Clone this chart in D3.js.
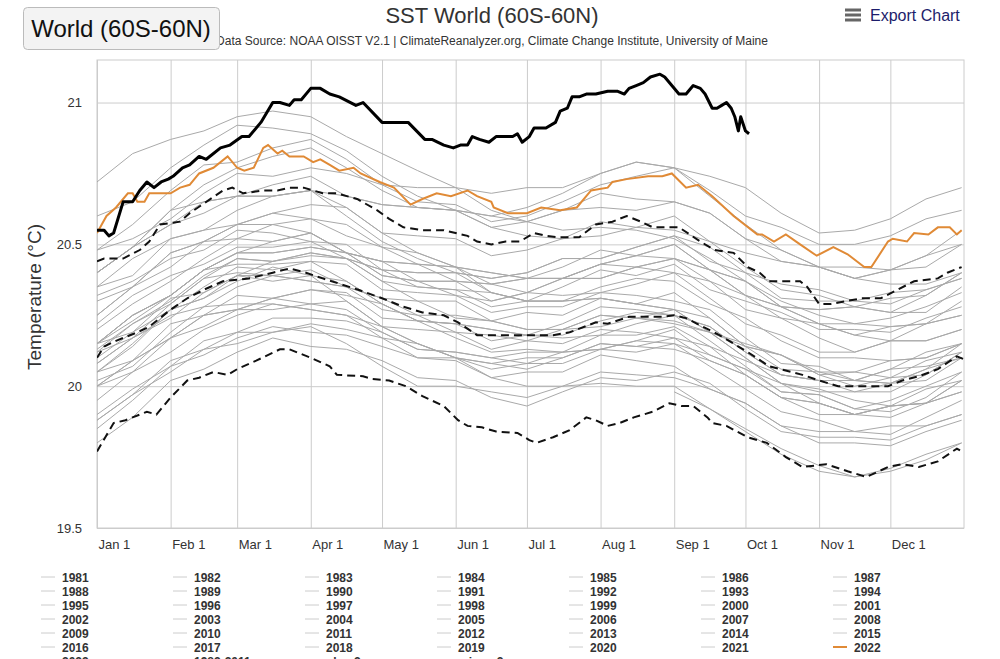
<!DOCTYPE html>
<html>
<head>
<meta charset="utf-8">
<script src="https://cdn.jsdelivr.net/npm/d3@7"></script>
<style>
  html, body { margin: 0; padding: 0; background: #fff; }
  svg { display: block; font-family: "Liberation Sans", Arial, sans-serif; }
</style>
</head>
<body>
<svg id="chart" width="1000" height="659"></svg>
<script>
// ---------------- DATA ----------------
const monthLabels = ["Jan 1","Feb 1","Mar 1","Apr 1","May 1","Jun 1","Jul 1","Aug 1","Sep 1","Oct 1","Nov 1","Dec 1"];
const monthStartDays = [0,31,59,90,120,151,181,212,243,273,304,334];
const yTicks = [19.5, 20, 20.5, 21];

// sample days (day of year, 0 = Jan 1) for the background years
const grayDays = [0,15,31,45,59,74,90,105,120,135,151,166,181,196,212,227,243,258,273,288,304,319,334,349,364];

const sst1981 = [null,null,null,null,null,null,null,null,null,null,null,null,null,null,null,null,19.98,19.92,19.85,19.78,19.72,19.68,19.70,19.74,19.80];
const sst1982 = [19.85,19.95,20.07,20.11,20.17,20.21,20.19,20.18,20.14,20.10,20.10,20.06,20.08,20.08,20.13,20.16,20.15,20.11,20.06,20.01,19.98,19.98,19.98,20.04,20.12];
const sst1983 = [20.15,20.23,20.32,20.41,20.43,20.43,20.44,20.37,20.29,20.23,20.17,20.12,20.13,20.12,20.13,20.12,20.15,20.07,19.99,19.91,19.88,19.84,19.86,19.86,19.90];
const sst1984 = [19.88,19.97,20.09,20.13,20.15,20.19,20.21,20.15,20.07,20.00,20.00,19.98,19.96,20.00,20.01,20.00,20.00,19.92,19.84,19.76,19.70,19.68,19.71,19.76,19.80];
const sst1985 = [19.80,19.89,20.02,20.06,20.12,20.17,20.14,20.13,20.09,20.03,20.02,19.96,19.93,19.98,20.03,20.02,20.05,20.01,19.92,19.84,19.82,19.82,19.81,19.86,19.90];
const sst1986 = [19.90,19.99,20.07,20.16,20.19,20.24,20.24,20.23,20.19,20.13,20.12,20.10,20.08,20.12,20.18,20.18,20.21,20.14,20.09,20.04,20.02,19.98,20.01,20.06,20.10];
const sst1987 = [20.12,20.22,20.30,20.39,20.45,20.44,20.46,20.45,20.37,20.35,20.34,20.28,20.30,20.30,20.35,20.38,20.37,20.29,20.24,20.16,20.10,20.10,20.09,20.10,20.15];
const sst1988 = [20.15,20.19,20.31,20.33,20.39,20.37,20.39,20.30,20.21,20.15,20.10,20.03,20.05,20.05,20.11,20.09,20.07,19.99,19.94,19.86,19.80,19.80,19.79,19.84,19.88];
const sst1989 = [19.88,19.97,20.05,20.13,20.19,20.19,20.22,20.20,20.17,20.15,20.10,20.08,20.10,20.10,20.15,20.14,20.17,20.09,20.04,19.96,19.94,19.90,19.89,19.94,20.02];
const sst1990 = [20.05,20.14,20.27,20.31,20.37,20.42,20.39,20.37,20.29,20.23,20.22,20.20,20.18,20.22,20.28,20.27,20.25,20.21,20.12,20.04,20.02,20.02,20.01,20.02,20.10];
const sst1991 = [20.08,20.17,20.24,20.33,20.39,20.39,20.37,20.35,20.31,20.25,20.25,20.23,20.20,20.20,20.25,20.24,20.22,20.19,20.14,20.06,20.05,20.02,20.06,20.07,20.10];
const sst1992 = [20.08,20.17,20.25,20.28,20.29,20.29,20.27,20.25,20.17,20.10,20.09,20.03,20.00,20.00,20.05,20.04,20.03,19.99,19.94,19.86,19.84,19.84,19.83,19.89,19.95];
const sst1993 = [19.95,20.05,20.12,20.20,20.25,20.29,20.27,20.25,20.21,20.15,20.10,20.08,20.06,20.10,20.15,20.14,20.13,20.09,20.04,19.96,19.90,19.90,19.93,19.94,20.02];
const sst1994 = [20.00,20.09,20.17,20.21,20.27,20.31,20.29,20.30,20.21,20.20,20.19,20.13,20.16,20.20,20.21,20.24,20.27,20.19,20.15,20.11,20.05,20.05,20.09,20.10,20.15];
const sst1995 = [20.13,20.22,20.29,20.38,20.40,20.39,20.41,20.35,20.27,20.25,20.19,20.18,20.16,20.15,20.20,20.19,20.17,20.14,20.04,19.96,19.94,19.90,19.93,19.94,19.98];
const sst1996 = [20.00,20.05,20.17,20.25,20.27,20.27,20.29,20.27,20.19,20.13,20.12,20.10,20.12,20.12,20.13,20.16,20.20,20.11,20.06,19.98,19.97,19.92,19.95,20.00,20.05];
const sst1997 = [20.05,20.15,20.27,20.31,20.39,20.44,20.47,20.45,20.41,20.40,20.40,20.38,20.40,20.45,20.45,20.49,20.53,20.49,20.40,20.36,20.34,20.30,20.33,20.34,20.38];
const sst1998 = [20.40,20.49,20.62,20.65,20.67,20.67,20.69,20.63,20.54,20.47,20.42,20.33,20.30,20.30,20.31,20.29,20.27,20.19,20.10,20.01,19.94,19.90,19.93,19.94,19.98];
const sst1999 = [20.00,20.09,20.17,20.25,20.32,20.31,20.34,20.33,20.24,20.23,20.22,20.16,20.18,20.17,20.18,20.22,20.25,20.16,20.07,19.98,19.97,19.92,19.91,19.96,20.05];
const sst2000 = [20.05,20.09,20.22,20.25,20.27,20.31,20.34,20.32,20.29,20.23,20.22,20.20,20.18,20.18,20.23,20.26,20.25,20.21,20.12,20.04,20.02,20.02,20.01,20.06,20.15];
const sst2001 = [20.15,20.25,20.32,20.41,20.47,20.47,20.49,20.47,20.39,20.37,20.32,20.30,20.33,20.32,20.33,20.36,20.40,20.31,20.22,20.18,20.12,20.12,20.16,20.16,20.20];
const sst2002 = [20.20,20.29,20.37,20.45,20.52,20.51,20.54,20.47,20.44,20.43,20.37,20.36,20.38,20.38,20.43,20.42,20.45,20.41,20.32,20.28,20.22,20.22,20.21,20.22,20.30];
const sst2003 = [20.30,20.35,20.47,20.51,20.52,20.57,20.54,20.47,20.39,20.37,20.37,20.30,20.33,20.38,20.38,20.42,20.40,20.37,20.32,20.24,20.22,20.18,20.16,20.22,20.25];
const sst2004 = [20.22,20.32,20.39,20.43,20.49,20.49,20.51,20.50,20.41,20.35,20.34,20.33,20.30,20.35,20.41,20.39,20.43,20.34,20.30,20.26,20.20,20.20,20.19,20.24,20.28];
const sst2005 = [20.25,20.35,20.47,20.51,20.57,20.61,20.59,20.53,20.49,20.47,20.42,20.36,20.38,20.38,20.38,20.42,20.45,20.37,20.27,20.24,20.17,20.12,20.16,20.16,20.20];
const sst2006 = [20.15,20.25,20.32,20.41,20.47,20.47,20.49,20.47,20.44,20.37,20.37,20.36,20.33,20.38,20.43,20.46,20.45,20.41,20.37,20.28,20.27,20.28,20.26,20.26,20.35];
const sst2007 = [20.32,20.37,20.45,20.48,20.55,20.54,20.51,20.45,20.37,20.30,20.30,20.23,20.20,20.20,20.25,20.24,20.23,20.19,20.10,20.01,19.99,19.95,19.93,19.99,20.02];
const sst2008 = [20.02,20.07,20.19,20.28,20.35,20.39,20.37,20.35,20.31,20.30,20.24,20.23,20.26,20.25,20.31,20.29,20.27,20.24,20.14,20.11,20.04,20.00,20.03,20.09,20.12];
const sst2009 = [20.12,20.17,20.29,20.38,20.45,20.44,20.47,20.45,20.41,20.40,20.40,20.38,20.40,20.45,20.45,20.49,20.53,20.44,20.40,20.31,20.30,20.30,20.29,20.34,20.38];
const sst2010 = [20.40,20.49,20.57,20.65,20.67,20.67,20.69,20.60,20.51,20.45,20.40,20.33,20.30,20.30,20.31,20.29,20.33,20.24,20.14,20.11,20.04,20.05,20.03,20.04,20.12];
const sst2011 = [20.10,20.19,20.27,20.35,20.42,20.41,20.44,20.43,20.34,20.33,20.32,20.26,20.28,20.28,20.33,20.32,20.30,20.27,20.17,20.08,20.07,20.02,20.06,20.12,20.15];
const sst2012 = [20.15,20.25,20.32,20.41,20.47,20.51,20.54,20.47,20.44,20.43,20.42,20.40,20.38,20.42,20.48,20.46,20.50,20.41,20.32,20.28,20.22,20.18,20.21,20.22,20.25];
const sst2013 = [20.25,20.35,20.42,20.51,20.57,20.57,20.59,20.57,20.49,20.43,20.42,20.40,20.38,20.38,20.43,20.46,20.50,20.41,20.37,20.28,20.27,20.28,20.26,20.32,20.40];
const sst2014 = [20.35,20.45,20.52,20.55,20.62,20.67,20.69,20.67,20.64,20.63,20.62,20.56,20.58,20.62,20.63,20.62,20.65,20.61,20.52,20.48,20.42,20.38,20.41,20.46,20.50];
const sst2015 = [20.48,20.52,20.59,20.68,20.75,20.74,20.77,20.75,20.71,20.70,20.70,20.68,20.70,20.70,20.75,20.79,20.77,20.74,20.70,20.61,20.54,20.55,20.59,20.66,20.70];
const sst2016 = [20.72,20.82,20.87,20.90,20.95,20.97,20.95,20.88,20.82,20.76,20.70,20.62,20.58,20.55,20.56,20.55,20.52,20.45,20.37,20.30,20.25,20.22,20.24,20.28,20.33];
const sst2017 = [20.40,20.49,20.62,20.71,20.77,20.81,20.84,20.77,20.69,20.63,20.62,20.56,20.53,20.52,20.58,20.56,20.55,20.51,20.42,20.34,20.32,20.28,20.31,20.32,20.40];
const sst2018 = [20.35,20.39,20.52,20.55,20.57,20.61,20.64,20.63,20.54,20.53,20.52,20.46,20.48,20.52,20.53,20.56,20.60,20.51,20.47,20.44,20.42,20.38,20.41,20.42,20.50];
const sst2019 = [20.48,20.57,20.69,20.78,20.79,20.84,20.87,20.80,20.71,20.65,20.64,20.58,20.60,20.65,20.71,20.74,20.77,20.69,20.60,20.56,20.50,20.50,20.53,20.59,20.62];
const sst2020 = [20.60,20.65,20.77,20.85,20.92,20.91,20.89,20.83,20.74,20.67,20.62,20.60,20.63,20.68,20.75,20.79,20.77,20.67,20.57,20.48,20.42,20.38,20.36,20.36,20.40];
const sst2021 = [20.40,20.49,20.57,20.61,20.67,20.71,20.74,20.67,20.64,20.63,20.62,20.60,20.58,20.62,20.68,20.66,20.65,20.61,20.52,20.44,20.42,20.42,20.41,20.46,20.55];

const grayYears = [1981,1982,1983,1984,1985,1986,1987,1988,1989,1990,1991,1992,1993,1994,1995,1996,1997,1998,1999,2000,2001,2002,2003,2004,2005,2006,2007,2008,2009,2010,2011,2012,2013,2014,2015,2016,2017,2018,2019,2020,2021];
const graySeries = [sst1981,sst1982,sst1983,sst1984,sst1985,sst1986,sst1987,sst1988,sst1989,sst1990,sst1991,sst1992,sst1993,sst1994,sst1995,sst1996,sst1997,sst1998,sst1999,sst2000,sst2001,sst2002,sst2003,sst2004,sst2005,sst2006,sst2007,sst2008,sst2009,sst2010,sst2011,sst2012,sst2013,sst2014,sst2015,sst2016,sst2017,sst2018,sst2019,sst2020,sst2021];

// [day of year, °C]
const sst2022 = [[0,20.54],[4,20.60],[8,20.63],[13,20.68],[15,20.68],[17,20.65],[20,20.65],[22,20.68],[28,20.68],[31,20.68],[35,20.70],[39,20.71],[43,20.75],[49,20.77],[55,20.81],[59,20.77],[62,20.76],[66,20.77],[70,20.84],[72,20.85],[76,20.82],[78,20.83],[81,20.81],[87,20.81],[91,20.79],[94,20.80],[98,20.78],[102,20.76],[108,20.77],[111,20.75],[119,20.72],[125,20.70],[132,20.64],[137,20.66],[143,20.68],[149,20.67],[156,20.69],[160,20.67],[166,20.65],[167,20.63],[173,20.61],[181,20.61],[187,20.63],[195,20.62],[202,20.63],[208,20.69],[215,20.70],[217,20.72],[223,20.73],[232,20.74],[238,20.74],[242,20.75],[248,20.70],[253,20.71],[259,20.67],[268,20.60],[278,20.535],[280,20.535],[285,20.51],[290,20.535],[296,20.50],[303,20.46],[310,20.49],[316,20.465],[323,20.42],[326,20.42],[333,20.51],[335,20.52],[341,20.51],[344,20.54],[350,20.535],[354,20.56],[359,20.56],[362,20.535],[364,20.55]];
const sst2023 = [[0,20.55],[3,20.55],[5,20.53],[7,20.54],[11,20.65],[15,20.65],[18,20.69],[21,20.72],[24,20.70],[27,20.72],[30,20.73],[32,20.74],[36,20.77],[39,20.78],[43,20.81],[46,20.80],[52,20.84],[56,20.85],[61,20.88],[64,20.88],[69,20.93],[74,21.00],[77,21.00],[81,20.99],[83,21.01],[86,21.01],[90,21.05],[94,21.05],[98,21.03],[102,21.02],[109,20.99],[112,21.00],[120,20.93],[127,20.93],[131,20.93],[138,20.87],[141,20.87],[146,20.85],[150,20.84],[153,20.85],[156,20.85],[158,20.88],[161,20.87],[165,20.86],[168,20.88],[175,20.88],[177,20.89],[179,20.86],[182,20.88],[184,20.91],[189,20.91],[193,20.93],[195,20.97],[198,20.98],[200,21.02],[203,21.02],[206,21.03],[210,21.03],[215,21.04],[219,21.04],[222,21.03],[224,21.05],[227,21.06],[230,21.07],[233,21.09],[237,21.10],[239,21.09],[245,21.03],[248,21.03],[251,21.06],[254,21.05],[256,21.03],[259,20.98],[261,20.98],[263,20.99],[265,21.00],[267,20.98],[268.5,20.95],[270,20.90],[271,20.95],[273,20.90],[274.5,20.89]];
const mean8211 = [[0,20.10],[3,20.14],[8,20.16],[17,20.19],[22,20.21],[31,20.27],[38,20.31],[45,20.34],[53,20.37],[64,20.38],[74,20.40],[81,20.415],[88,20.40],[95,20.38],[110,20.34],[120,20.31],[129,20.28],[137,20.26],[146,20.25],[152,20.225],[160,20.18],[182,20.18],[192,20.18],[199,20.19],[210,20.225],[215,20.22],[224,20.245],[238,20.245],[243,20.25],[248,20.24],[262,20.18],[274,20.12],[283,20.07],[297,20.04],[304,20.02],[312,20.00],[322,20.00],[333,20.00],[339,20.02],[346,20.035],[354,20.06],[362,20.105],[365,20.095]];
const plus2sigma = [[0,20.44],[3,20.45],[11,20.45],[18,20.48],[22,20.51],[26.5,20.57],[35,20.58],[39,20.61],[46,20.65],[53,20.69],[57,20.70],[61.5,20.68],[70,20.69],[76,20.69],[81,20.70],[87,20.70],[95,20.68],[101,20.68],[109.5,20.66],[118,20.62],[123,20.59],[129,20.56],[137,20.55],[146,20.55],[156,20.53],[160,20.51],[166,20.50],[172,20.51],[178,20.51],[184,20.54],[189,20.53],[194,20.525],[203,20.525],[210,20.57],[217,20.58],[223,20.60],[229,20.58],[234,20.56],[245,20.56],[254,20.51],[260,20.48],[268,20.47],[274,20.42],[279,20.40],[283,20.37],[296,20.37],[299,20.35],[304,20.29],[309,20.29],[322,20.31],[330,20.31],[337,20.34],[344,20.37],[354,20.38],[358,20.40],[364,20.42]];
const minus2sigma = [[0,19.77],[7,19.87],[12,19.88],[21,19.91],[25,19.90],[31,19.96],[38,20.02],[43,20.03],[49,20.05],[55,20.04],[59,20.06],[67,20.09],[77,20.13],[81,20.13],[90,20.10],[98,20.07],[101,20.04],[112,20.035],[116,20.025],[123,20.02],[130,20.00],[137,19.965],[146,19.93],[152,19.88],[156,19.86],[162,19.855],[168,19.84],[177,19.835],[182,19.81],[185,19.80],[192,19.82],[199,19.845],[206,19.89],[210,19.88],[215,19.86],[220,19.87],[226,19.89],[234,19.91],[241,19.94],[246,19.93],[251,19.93],[257,19.89],[259,19.87],[265,19.86],[274,19.82],[282,19.80],[290,19.75],[297,19.715],[307,19.725],[316,19.70],[324,19.68],[333,19.715],[339,19.725],[346,19.715],[354,19.735],[362,19.78],[364,19.77]];

const legendExtra = ["2023","1982-2011 mean","plus 2σ","minus 2σ"];

// ---------------- CHART ----------------
const svg = d3.select("#chart");
const W = 1000, H = 659;
const plot = {left: 97, right: 964, top: 60, bottom: 528};

svg.append("rect").attr("width", W).attr("height", H).attr("fill", "#fff");

const x = d3.scaleLinear().domain([0, 365]).range([plot.left, plot.right]);
const y = d3.scaleLinear().domain([19.5, 21.15]).range([plot.bottom, plot.top]);

// plot border
svg.append("rect")
  .attr("x", plot.left).attr("y", plot.top)
  .attr("width", plot.right - plot.left).attr("height", plot.bottom - plot.top)
  .attr("fill", "none").attr("stroke", "#ccc").attr("stroke-width", 1);

// x grid + labels
const xAxis = d3.axisBottom(x)
  .tickValues(monthStartDays)
  .tickFormat((d, i) => monthLabels[i])
  .tickSize(-(plot.bottom - plot.top))
  .tickPadding(10);
const gx = svg.append("g").attr("transform", `translate(0,${plot.bottom})`).call(xAxis);
gx.select(".domain").remove();
gx.selectAll(".tick line").attr("stroke", "#ccc");
gx.selectAll(".tick text")
  .attr("text-anchor", "start").attr("dx", 1).attr("y", 12)
  .attr("font-size", 13).attr("fill", "#333")
  .attr("font-family", "\"Liberation Sans\", Arial, sans-serif");

// y grid + labels
const yAxis = d3.axisLeft(y)
  .tickValues(yTicks)
  .tickFormat(d3.format("~g"))
  .tickSize(-(plot.right - plot.left))
  .tickPadding(15);
const gy = svg.append("g").attr("transform", `translate(${plot.left},0)`).call(yAxis);
gy.select(".domain").remove();
gy.selectAll(".tick line").attr("stroke", "#ccc");
gy.selectAll(".tick text")
  .attr("font-size", 13).attr("fill", "#333")
  .attr("font-family", "\"Liberation Sans\", Arial, sans-serif");

// y title
svg.append("text")
  .attr("transform", `translate(41,${(plot.top + plot.bottom) / 2 + 3}) rotate(-90)`)
  .attr("text-anchor", "middle")
  .attr("font-size", 19).attr("fill", "#333")
  .text("Temperature (°C)");

const clip = svg.append("clipPath").attr("id", "clip")
  .append("rect").attr("x", plot.left).attr("y", plot.top)
  .attr("width", plot.right - plot.left).attr("height", plot.bottom - plot.top);

const linesG = svg.append("g").attr("clip-path", "url(#clip)");

const linePair = d3.line().x(d => x(d[0])).y(d => y(d[1]));
const lineGray = d3.line()
  .defined(d => d[1] != null)
  .x(d => x(d[0])).y(d => y(d[1]));

graySeries.forEach((vals, i) => {
  const pts = vals.map((v, j) => [grayDays[j], v]);
  linesG.append("path")
    .attr("d", lineGray(pts))
    .attr("fill", "none")
    .attr("stroke", "#a9a9a9")
    .attr("stroke-width", 1)
    .attr("data-year", grayYears[i]);
});

[mean8211, plus2sigma, minus2sigma].forEach(s => {
  linesG.append("path")
    .attr("d", linePair(s))
    .attr("fill", "none")
    .attr("stroke", "#111")
    .attr("stroke-width", 2)
    .attr("stroke-dasharray", "8,5");
});

linesG.append("path")
  .attr("d", linePair(sst2022))
  .attr("fill", "none").attr("stroke", "#e08a36").attr("stroke-width", 2);

linesG.append("path")
  .attr("d", linePair(sst2023))
  .attr("fill", "none").attr("stroke", "#000").attr("stroke-width", 3)
  .attr("stroke-linejoin", "round");

// titles
svg.append("text").attr("x", 492).attr("y", 23).attr("text-anchor", "middle")
  .attr("font-size", 22).attr("fill", "#333").text("SST World (60S-60N)");
svg.append("text").attr("x", 492).attr("y", 45).attr("text-anchor", "middle")
  .attr("font-size", 12).attr("fill", "#333")
  .text("Data Source: NOAA OISST V2.1 | ClimateReanalyzer.org, Climate Change Institute, University of Maine");

// region button
svg.append("rect").attr("x", 23.5).attr("y", 7.5).attr("width", 196).attr("height", 42)
  .attr("rx", 4).attr("fill", "#f3f3f3").attr("stroke", "#bbb");
svg.append("text").attr("x", 121).attr("y", 37).attr("text-anchor", "middle")
  .attr("font-size", 24).attr("fill", "#111").text("World (60S-60N)");

// export menu
[10, 15, 20].forEach(yy => {
  svg.append("rect").attr("x", 845).attr("y", yy - 1.5).attr("width", 16).attr("height", 3)
    .attr("fill", "#666");
});
svg.append("text").attr("x", 870).attr("y", 21).attr("font-size", 16)
  .attr("fill", "#1c1c6b").text("Export Chart");

// legend
const legendItems = grayYears.map(yr => ({label: String(yr), type: "gray"}))
  .concat([{label: "2022", type: "orange"}])
  .concat([
    {label: legendExtra[0], type: "black"},
    {label: legendExtra[1], type: "dash"},
    {label: legendExtra[2], type: "dash"},
    {label: legendExtra[3], type: "dash"}
  ]);
const leg = svg.append("g");
legendItems.forEach((it, i) => {
  const col = i % 7, row = Math.floor(i / 7);
  const lx = 41 + col * 132, ly = 577 + row * 14;
  const g = leg.append("g").attr("transform", `translate(${lx},${ly})`);
  let stroke = "#ccc", sw = 1, dash = null;
  if (it.type === "orange") { stroke = "#e08a36"; sw = 2; }
  if (it.type === "black") { stroke = "#000"; sw = 3; }
  if (it.type === "dash") { stroke = "#111"; sw = 2; dash = "4,2"; }
  g.append("line").attr("x1", 0).attr("x2", 14).attr("y1", 0).attr("y2", 0)
    .attr("stroke", stroke).attr("stroke-width", sw).attr("stroke-dasharray", dash);
  g.append("text").attr("x", 21).attr("y", 4.5)
    .attr("font-size", 12).attr("font-weight", "bold").attr("fill", "#333")
    .text(it.label);
});
</script>
</body>
</html>
